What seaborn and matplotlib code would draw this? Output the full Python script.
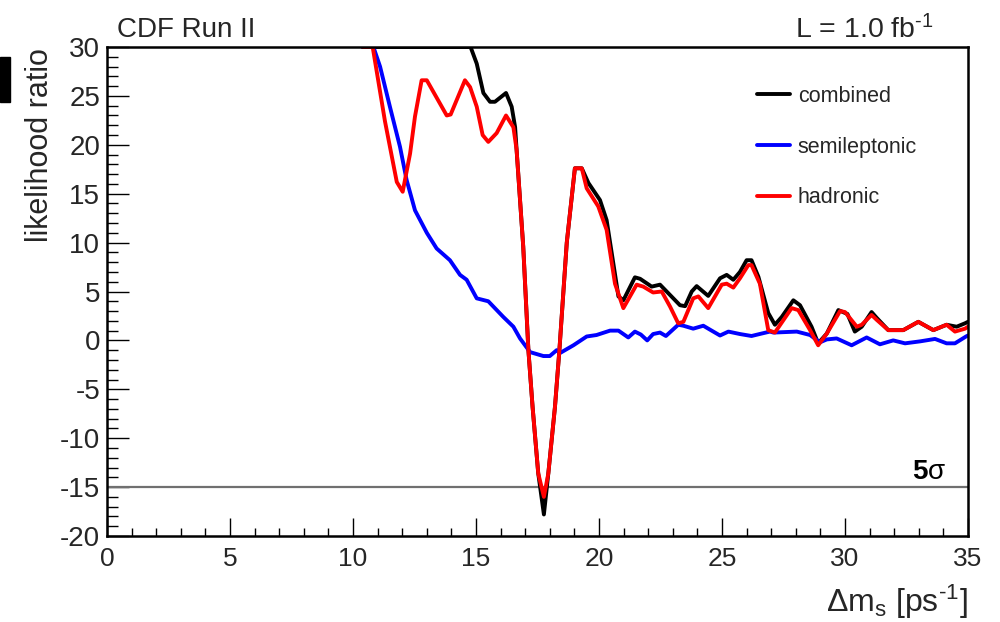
import numpy as np
import pandas as pd
import matplotlib
matplotlib.use("Agg")
import matplotlib.pyplot as plt
from matplotlib.ticker import MultipleLocator
from matplotlib.patches import Rectangle
import seaborn as sns

# Likelihood-ratio scan vs. Delta m_s for each tagging sample
combined_x = [10.4, 14.78, 15.03, 15.3, 15.57, 15.77, 16.22, 16.45, 16.59, 16.65, 16.92,
              17.13, 17.30, 17.53, 17.76, 17.94, 18.21, 18.39, 18.69, 19.02, 19.3, 19.57,
              20.04, 20.31, 20.79, 20.99, 21.46, 21.67, 22.14, 22.48, 23.02, 23.29, 23.5,
              23.77, 23.97, 24.44, 24.92, 25.19, 25.46, 25.73, 26.0, 26.2, 26.48, 26.88,
              27.15, 27.43, 27.9, 28.17, 28.64, 28.91, 29.26, 29.73, 30.1, 30.4, 30.68,
              31.08, 31.29, 31.76, 32.37, 32.98, 33.59, 34.13, 34.54, 34.88, 35.0]
combined_y = [30, 30, 28.3, 25.3, 24.4, 24.4, 25.3, 23.9, 21.8, 19.5, 9.6,
              -1.0, -6.8, -13.6, -17.8, -13.6, -6.8, -1.0, 10.0, 17.6, 17.6, 16.1,
              14.35, 12.3, 4.5, 4.1, 6.45, 6.3, 5.5, 5.7, 4.3, 3.6, 3.5,
              5.0, 5.55, 4.55, 6.35, 6.7, 6.2, 7.0, 8.2, 8.2, 6.5, 2.8,
              1.6, 2.4, 4.1, 3.6, 1.4, -0.3, 0.7, 3.1, 2.7, 0.9, 1.4,
              2.9, 2.3, 1.05, 1.05, 1.9, 1.05, 1.6, 1.4, 1.75, 1.9]

semilep_x = [10.4, 10.83, 11.1, 11.5, 11.91, 12.18, 12.52, 13.0, 13.4, 13.94, 14.35, 14.62,
             15.03, 15.5, 16.11, 16.52, 16.79, 17.2, 17.74, 18.0, 18.28, 18.41, 18.96,
             19.5, 19.9, 20.45, 20.79, 21.19, 21.46, 21.7, 21.96, 22.2, 22.48, 22.72,
             23.22, 23.43, 23.83, 24.24, 24.51, 24.92, 25.26, 25.73, 26.2, 26.61, 26.95,
             27.09, 28.04, 28.58, 28.98, 29.26, 29.66, 30.27, 30.88, 31.42, 31.96, 32.44,
             33.05, 33.66, 34.13, 34.47, 34.92, 35.0]
semilep_y = [30, 30, 28.0, 23.9, 19.8, 16.4, 13.3, 11.0, 9.4, 8.2, 6.7, 6.2,
             4.3, 4.0, 2.4, 1.4, 0.2, -1.2, -1.6, -1.6, -1.0, -1.3, -0.5,
             0.4, 0.55, 1.0, 1.0, 0.3, 0.9, 0.6, 0.0, 0.65, 0.8, 0.45,
             1.6, 1.5, 1.2, 1.5, 1.1, 0.5, 0.9, 0.65, 0.45, 0.7, 0.9,
             0.8, 0.9, 0.55, -0.2, 0.1, 0.2, -0.5, 0.3, -0.4, 0.0, -0.3,
             -0.1, 0.15, -0.3, -0.3, 0.4, 0.5]

hadronic_x = [10.4, 10.8, 11.3, 11.78, 12.02, 12.32, 12.52, 12.79, 13.0, 13.81, 13.97,
              14.55, 14.76, 15.03, 15.27, 15.5, 15.84, 16.22, 16.52, 16.65, 16.92,
              17.13, 17.30, 17.53, 17.76, 17.94, 18.21, 18.39, 18.69, 19.02, 19.3, 19.5,
              19.97, 20.31, 20.65, 20.99, 21.53, 21.8, 22.2, 22.55, 22.89, 23.22, 23.43,
              23.83, 24.04, 24.44, 24.99, 25.19, 25.46, 25.73, 26.07, 26.2, 26.54, 26.88,
              27.15, 27.83, 28.1, 28.58, 28.91, 29.26, 29.8, 30.0, 30.48, 30.68, 31.08,
              31.29, 31.76, 32.37, 32.98, 33.59, 34.13, 34.47, 34.88, 35.0]
hadronic_y = [30, 30, 22.4, 16.2, 15.2, 19.1, 22.9, 26.6, 26.6, 23.0, 23.1,
              26.6, 25.9, 23.9, 21.0, 20.3, 21.2, 23.0, 21.8, 19.5, 9.6,
              -1.0, -6.8, -13.6, -16.0, -13.6, -6.8, -1.0, 10.0, 17.6, 17.6, 15.55,
              13.7, 11.3, 5.8, 3.3, 5.7, 5.5, 4.9, 5.0, 3.45, 1.75, 1.9,
              4.3, 4.5, 3.3, 5.7, 5.8, 5.4, 6.35, 7.7, 7.7, 5.8, 1.05,
              0.8, 3.3, 3.1, 1.05, -0.5, 0.7, 3.0, 2.9, 1.4, 1.6, 2.6,
              2.1, 1.05, 1.05, 1.9, 1.05, 1.6, 0.9, 1.2, 1.4]

channels = ["combined", "semileptonic", "hadronic"]
colors = {"combined": "#000000", "semileptonic": "#0000ff", "hadronic": "#ff0000"}
five_sigma = -15.0
x_ticks = [0, 5, 10, 15, 20, 25, 30, 35]
y_ticks = [-20, -15, -10, -5, 0, 5, 10, 15, 20, 25, 30]

frames = [
    pd.DataFrame({"dms": combined_x, "lr": combined_y, "channel": "combined"}),
    pd.DataFrame({"dms": semilep_x, "lr": semilep_y, "channel": "semileptonic"}),
    pd.DataFrame({"dms": hadronic_x, "lr": hadronic_y, "channel": "hadronic"}),
]
df = pd.concat(frames, ignore_index=True)

sns.set_style("ticks")
plt.rcParams["font.family"] = ["Liberation Sans", "DejaVu Sans"]
plt.rcParams["axes.unicode_minus"] = False
plt.rcParams["mathtext.fontset"] = "custom"
plt.rcParams["mathtext.rm"] = "Liberation Sans"
plt.rcParams["mathtext.it"] = "Liberation Sans"
plt.rcParams["mathtext.bf"] = "Liberation Sans:bold"

fig = plt.figure(figsize=(10, 6.22), dpi=100)
ax = fig.add_axes([0.107, 0.1383, 0.861, 0.7861])

ax.axhline(five_sigma, color="#707070", lw=1.6, zorder=1)

sns.lineplot(data=df, x="dms", y="lr", hue="channel", hue_order=channels,
             palette=colors, estimator=None, sort=False, lw=2.8, ax=ax, zorder=2)

ax.set_xlim(0, 35)
ax.set_ylim(-20, 30)
ax.set_xticks(x_ticks)
ax.set_yticks(y_ticks)
ax.xaxis.set_minor_locator(MultipleLocator(1))
ax.yaxis.set_minor_locator(MultipleLocator(1))
ax.tick_params(which="both", bottom=True, left=True, top=False, right=False)
ax.tick_params(axis="x", which="major", direction="in", length=13, width=1,
               labelsize=19, pad=8, color="black")
ax.tick_params(axis="x", which="minor", direction="in", length=6, width=1, color="black")
ax.tick_params(axis="y", which="major", direction="in", length=16, width=1,
               labelsize=20, pad=5, color="black")
ax.tick_params(axis="y", which="minor", direction="in", length=8, width=1, color="black")
for side in ["left", "right", "top", "bottom"]:
    ax.spines[side].set_visible(True)
    ax.spines[side].set_color("black")
    ax.spines[side].set_linewidth(1.8)
ax.set_xlabel("")
ax.set_ylabel("")

handles, labels = ax.get_legend_handles_labels()
ax.legend(handles, labels, loc="upper left", bbox_to_anchor=(0.757, 1 - 86 / 622),
          bbox_transform=fig.transFigure, frameon=False, fontsize=15.5,
          handlelength=1.55, handletextpad=0.35, labelspacing=1.38,
          borderpad=0, borderaxespad=0)

ax.text(34.1, -14.2, r"5$\sigma$", ha="right", va="baseline", fontsize=20,
        fontweight="bold", color="black")

fig.text(0.117, 1 - 37 / 622, "CDF Run II", fontsize=20, ha="left", va="baseline")
fig.text(0.934, 1 - 38 / 622, r"L = 1.0 fb$^{\text{-}1}$", fontsize=20.5,
         ha="right", va="baseline")
fig.text(0.968, 1 - 612 / 622, r"$\Delta$m$_{\rm s}$ [ps$^{\text{-}1}$]", fontsize=23,
         ha="right", va="baseline")
fig.text(0.040, 1 - 48 / 622, "likelihood ratio", fontsize=22, rotation=90,
         ha="center", va="top")

fig.patches.append(Rectangle((0.0, 1 - 102 / 622), 0.010, 45 / 622,
                             transform=fig.transFigure, color="black", zorder=5))

fig.savefig("out.png", dpi=100, facecolor="white")
